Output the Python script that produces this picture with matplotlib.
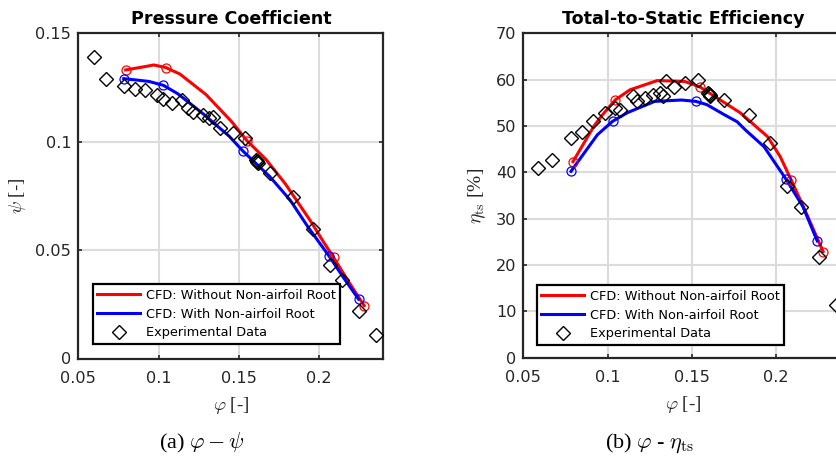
import matplotlib
matplotlib.use("Agg")
import matplotlib.pyplot as plt
import numpy as np

plt.rcParams["font.family"] = ["DejaVu Sans"]
plt.rcParams["mathtext.fontset"] = "cm"

# ---- CFD: without non-airfoil root ----
cfd_a_phi = [0.0795, 0.0920, 0.0970, 0.1045, 0.1133, 0.1296, 0.1458, 0.1550,
             0.1670, 0.1790, 0.1950, 0.2025, 0.2090, 0.2180, 0.2280]
cfd_a_psi = [0.1331, 0.1347, 0.1354, 0.1342, 0.1312, 0.1217, 0.1090, 0.1005,
             0.0917, 0.0805, 0.0630, 0.0540, 0.0466, 0.0358, 0.0244]
cfd_a_eta = [42.3, 50.0, 52.4, 55.6, 57.8, 59.8, 59.6, 58.4,
             55.6, 52.8, 47.7, 43.4, 38.4, 31.2, 22.9]
cfd_a_marked = [0, 3, 7, 12, 14]

# ---- CFD: with non-airfoil root ----
cfd_b_phi = [0.0783, 0.0940, 0.1030, 0.1120, 0.1280, 0.1440, 0.1525, 0.1590,
             0.1690, 0.1770, 0.1820, 0.1930, 0.2060, 0.2160, 0.2245]
cfd_b_psi = [0.1291, 0.1278, 0.1260, 0.1221, 0.1127, 0.1025, 0.0957, 0.0911,
             0.0841, 0.0773, 0.0730, 0.0607, 0.0474, 0.0364, 0.0274]
cfd_b_eta = [40.2, 48.1, 51.0, 52.9, 55.3, 55.6, 55.3, 54.6,
             52.5, 50.9, 49.1, 45.5, 38.5, 32.6, 25.2]
cfd_b_marked = [0, 2, 6, 12, 14]

# ---- Experimental data ----
exp_phi_psi = [0.0598, 0.0672, 0.0785, 0.0853, 0.0917, 0.0992, 0.1029, 0.1081,
               0.1144, 0.1185, 0.1216, 0.1278, 0.1316, 0.1341, 0.1382, 0.1465,
               0.1538, 0.1605, 0.1610, 0.1615, 0.1620, 0.1694, 0.1835, 0.1963,
               0.2067, 0.2140, 0.2250, 0.2352]
exp_psi = [0.1392, 0.1288, 0.1257, 0.1242, 0.1238, 0.1215, 0.1196, 0.1177,
           0.1192, 0.1154, 0.1138, 0.1123, 0.1108, 0.1115, 0.1062, 0.1039,
           0.1016, 0.0915, 0.0910, 0.0905, 0.0900, 0.0854, 0.0746, 0.0596,
           0.0431, 0.0362, 0.0219, 0.0108]

exp_phi_eta = [0.0589, 0.0669, 0.0781, 0.0847, 0.0912, 0.0985, 0.1045, 0.1074,
               0.1153, 0.1177, 0.1223, 0.1272, 0.1312, 0.1331, 0.1347, 0.1395,
               0.1460, 0.1539, 0.1598, 0.1603, 0.1606, 0.1610, 0.1692, 0.1840,
               0.1965, 0.2068, 0.2147, 0.2258, 0.2357]
exp_eta = [40.9, 42.7, 47.4, 48.8, 51.0, 52.9, 53.8, 53.5,
           56.4, 55.3, 56.0, 56.7, 57.2, 56.4, 59.6, 58.4,
           59.2, 60.0, 57.2, 56.8, 56.4, 56.6, 55.6, 52.4,
           46.4, 37.1, 32.6, 21.8, 11.4]

x_ticks = [0.05, 0.1, 0.15, 0.2]
x_tick_labels = ["0.05", "0.1", "0.15", "0.2"]
psi_ticks = [0, 0.05, 0.1, 0.15]
psi_tick_labels = ["0", "0.05", "0.1", "0.15"]
eta_ticks = [0, 10, 20, 30, 40, 50, 60, 70]

legend_labels = ["CFD: Without Non-airfoil Root",
                 "CFD: With Non-airfoil Root",
                 "Experimental Data"]

W, H = 836, 462
fig = plt.figure(figsize=(W / 100, H / 100), dpi=100)
ax1 = fig.add_axes([78.3 / W, 1 - 358.5 / H, 305.1 / W, 325.2 / H])
ax2 = fig.add_axes([523.3 / W, 1 - 357.6 / H, 320.0 / W, 324.3 / H])

edge = "#262626"
grid_c = "#dcdcdc"
serif = ["Liberation Serif"]


def style_axes(ax):
    ax.set_axisbelow(True)
    ax.grid(True, color=grid_c, linewidth=1.5)
    for s in ax.spines.values():
        s.set_linewidth(1.6)
        s.set_color(edge)
    ax.tick_params(direction="in", length=3, width=1.2, colors=edge,
                   top=True, right=True, labelsize=11.6)
    ax.tick_params(axis="x", pad=9)
    ax.tick_params(axis="y", pad=5)
    ax.set_xlim(0.05, 0.24)
    ax.set_xticks(x_ticks)
    ax.set_xticklabels(x_tick_labels)
    ax.set_xlabel(r"$\varphi$ [-]", fontsize=13.5, family=serif, color=edge)
    ax.xaxis.set_label_coords(0.5, -0.145)
    ax.xaxis.label.set_verticalalignment("center")


def draw(ax, ya, yb, ye, phi_e):
    la, = ax.plot(cfd_a_phi, ya, color="red", lw=2.2, zorder=3)
    lb, = ax.plot(cfd_b_phi, yb, color="blue", lw=2.2, zorder=3)
    ax.plot([cfd_a_phi[i] for i in cfd_a_marked], [ya[i] for i in cfd_a_marked],
            ls="none", marker="o", ms=6.5, mfc="none", mec="red", mew=0.9, zorder=4)
    ax.plot([cfd_b_phi[i] for i in cfd_b_marked], [yb[i] for i in cfd_b_marked],
            ls="none", marker="o", ms=6.5, mfc="none", mec="blue", mew=0.9, zorder=4)
    le, = ax.plot(phi_e, ye, ls="none", marker="D", ms=7.5, mfc="none",
                  mec="black", mew=1.0, zorder=5, clip_on=False)
    return la, lb, le


style_axes(ax1)
ax1.set_ylim(0, 0.15)
ax1.set_yticks(psi_ticks)
ax1.set_yticklabels(psi_tick_labels)
h1 = draw(ax1, cfd_a_psi, cfd_b_psi, exp_psi, exp_phi_psi)
ax1.set_title("Pressure Coefficient", fontsize=12.6, fontweight="bold", pad=6.5)
ax1.set_ylabel(r"$\psi$ [-]", fontsize=13.5, family=serif, color=edge)
ax1.yaxis.set_label_coords(-0.165, 0.5)

style_axes(ax2)
ax2.set_ylim(0, 70)
ax2.set_yticks(eta_ticks)
h2 = draw(ax2, cfd_a_eta, cfd_b_eta, exp_eta, exp_phi_eta)
ax2.set_title("Total-to-Static Efficiency", fontsize=12.6, fontweight="bold", pad=6.5)
ax2.set_ylabel(r"$\eta_{\mathrm{ts}}$ [%]", fontsize=14, family=serif, color=edge)
ax2.yaxis.set_label_coords(-0.11, 0.5)

for ax, hs, anchor in [(ax1, h1, (0.048, 0.045)), (ax2, h2, (0.042, 0.039))]:
    leg = ax.legend(hs, legend_labels, loc="lower left", bbox_to_anchor=anchor,
                    borderaxespad=0, fontsize=9.3, fancybox=False,
                    framealpha=1, edgecolor="black", handlelength=3.3,
                    handletextpad=0.45, labelspacing=0.45, borderpad=0.35)
    leg.get_frame().set_linewidth(1.6)
    leg.set_zorder(10)

# Sub-figure captions
fig.text(202 / W, 1 - 443 / H, r"(a) $\varphi - \psi$", fontsize=16,
         family=serif, ha="center", va="center")
fig.text(650 / W, 1 - 443 / H, r"(b) $\varphi$ - $\eta_{\mathrm{ts}}$", fontsize=16,
         family=serif, ha="center", va="center")

fig.savefig("out.png", dpi=100)
